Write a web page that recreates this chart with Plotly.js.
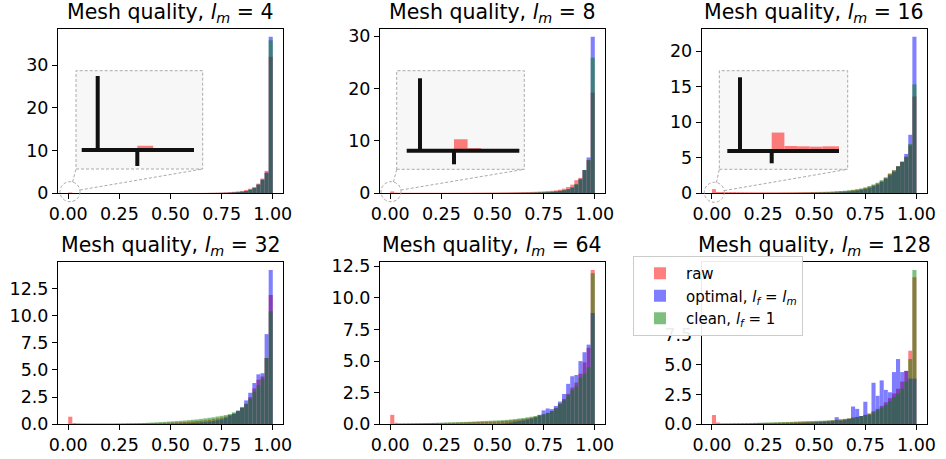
<!DOCTYPE html>
<html><head><meta charset="utf-8">
<script src="https://cdn.plot.ly/plotly-3.0.1.min.js"></script>
<style>html,body{margin:0;padding:0;background:#fff}#chart{width:946px;height:459px}</style>
</head><body><div id="chart"></div>
<script>
// ---------------- data ----------------
const lmValues = [4, 8, 16, 32, 64, 128];
const seriesNames = ['raw', 'optimal, <i>l</i><sub><i>f</i></sub> = <i>l</i><sub><i>m</i></sub>', 'clean, <i>l</i><sub><i>f</i></sub> = 1'];
const seriesColors = ['#ff0000', '#0000ff', '#008000'];
const binCount = 50;
const binWidth = 0.02;
const xTickVals = [0, 0.25, 0.5, 0.75, 1];
const xTickText = ['0.00', '0.25', '0.50', '0.75', '1.00'];

const raw4 = [0.12,0,0,0,0,0,0,0,0,0,
  0,0,0,0,0,0,0,0,0,0,
  0,0,0,0,0,0,0,0,0.01,0.01,
  0.01,0.02,0.02,0.03,0.04,0.05,0.07,0.1,0.14,0.2,
  0.28,0.38,0.5,0.7,1.0,1.4,2.2,3.4,5.2,32.0];
const optimal4 = [0,0,0,0,0,0,0,0,0,0,
  0,0,0,0,0,0,0,0,0,0,
  0,0,0,0,0,0,0,0,0,0,
  0,0,0,0,0.01,0.01,0.02,0.03,0.05,0.08,
  0.12,0.18,0.28,0.45,0.75,1.15,1.95,3.1,4.8,36.7];
const clean4 = [0,0,0,0,0,0,0,0,0,0,
  0,0,0,0,0,0,0,0,0,0,
  0,0,0,0,0,0,0,0,0,0,
  0,0,0,0,0.01,0.02,0.02,0.03,0.05,0.08,
  0.12,0.19,0.3,0.47,0.78,1.2,2.0,3.15,4.7,35.9];

const raw8 = [0.3,0.065,0.045,0.045,0.045,0.045,0.045,0.045,0.045,0.045,
  0.045,0.045,0.045,0.05,0.05,0.05,0.055,0.055,0.06,0.06,
  0.065,0.07,0.075,0.08,0.085,0.09,0.1,0.11,0.12,0.13,
  0.14,0.15,0.17,0.19,0.21,0.24,0.27,0.31,0.36,0.42,
  0.5,0.64,0.84,1.15,1.6,2.45,2.9,4.4,6.3,19.2];
const optimal8 = [0,0,0,0,0,0,0,0,0,0,
  0,0,0,0,0,0,0,0,0,0,
  0,0,0,0,0,0,0,0,0,0,
  0.01,0.015,0.02,0.025,0.035,0.05,0.07,0.1,0.14,0.19,
  0.26,0.36,0.5,0.7,1.0,1.6,2.6,4.4,6.8,29.9];
const clean8 = [0,0,0,0,0,0,0,0,0,0,
  0,0,0,0,0,0,0,0,0,0,
  0.01,0.012,0.014,0.016,0.018,0.02,0.025,0.03,0.035,0.04,
  0.05,0.06,0.07,0.08,0.1,0.12,0.15,0.18,0.22,0.27,
  0.33,0.42,0.55,0.75,1.1,1.7,2.7,4.4,6.3,25.9];

const raw16 = [0.55,0.15,0.14,0.13,0.14,0.14,0.13,0.12,0.12,0.11,
  0.1,0.1,0.1,0.1,0.1,0.1,0.1,0.11,0.11,0.11,
  0.12,0.12,0.13,0.13,0.14,0.15,0.16,0.17,0.18,0.2,
  0.22,0.25,0.28,0.32,0.38,0.46,0.56,0.7,0.88,1.1,
  1.35,1.7,2.15,2.75,3.2,3.8,4.4,5.1,6.7,13.6];
const optimal16 = [0,0,0,0,0,0,0,0,0,0,
  0,0,0,0,0,0,0,0,0,0,
  0,0,0,0,0.01,0.015,0.02,0.03,0.04,0.05,
  0.07,0.1,0.13,0.18,0.24,0.32,0.42,0.55,0.72,0.95,
  1.2,1.55,2.0,2.5,3.0,3.7,4.4,5.5,8.2,22.0];
const clean16 = [0,0,0,0,0,0,0,0,0,0,
  0.01,0.01,0.01,0.01,0.015,0.015,0.02,0.02,0.025,0.03,
  0.04,0.05,0.06,0.07,0.08,0.1,0.11,0.13,0.15,0.17,
  0.23,0.27,0.32,0.38,0.45,0.54,0.65,0.8,0.98,1.2,
  1.45,1.8,2.2,2.7,3.2,3.8,4.4,5.1,6.9,15.3];

const raw32 = [0.7,0.12,0.1,0.09,0.09,0.09,0.09,0.09,0.09,0.09,
  0.09,0.09,0.09,0.09,0.1,0.1,0.1,0.1,0.1,0.1,
  0.11,0.12,0.13,0.14,0.15,0.17,0.18,0.2,0.22,0.24,
  0.27,0.3,0.33,0.37,0.42,0.48,0.55,0.62,0.72,0.85,
  0.95,1.2,1.5,1.9,2.5,3.3,4.1,4.4,6.1,11.9];
const optimal32 = [0,0,0,0,0,0,0,0,0,0,
  0.01,0.01,0.01,0.01,0.01,0.01,0.01,0.01,0.01,0.01,
  0.02,0.025,0.03,0.035,0.04,0.05,0.06,0.07,0.08,0.1,
  0.12,0.14,0.17,0.2,0.25,0.3,0.38,0.45,0.6,0.82,
  1.0,1.25,1.6,2.2,2.9,3.8,4.6,4.7,8.3,14.2];
const clean32 = [0,0,0,0,0,0,0,0.01,0.02,0.02,
  0.03,0.04,0.05,0.06,0.07,0.08,0.09,0.1,0.12,0.14,
  0.16,0.18,0.2,0.22,0.25,0.27,0.3,0.32,0.35,0.38,
  0.42,0.45,0.5,0.55,0.6,0.65,0.72,0.78,0.85,0.95,
  1.1,1.25,1.5,1.85,2.35,3.0,3.6,4.2,6.1,10.4];

const raw64 = [0.75,0.12,0.09,0.09,0.09,0.09,0.09,0.09,0.09,0.09,
  0.1,0.1,0.1,0.11,0.12,0.12,0.13,0.14,0.15,0.16,
  0.17,0.18,0.19,0.2,0.21,0.22,0.24,0.26,0.28,0.3,
  0.33,0.37,0.41,0.46,0.52,0.6,0.68,0.78,0.9,1.05,
  1.3,1.65,2.0,2.4,2.9,3.3,4.0,4.9,6.05,12.2];
const optimal64 = [0,0,0,0,0,0,0,0,0,0,
  0,0,0,0,0,0,0,0,0,0,
  0.01,0.01,0.01,0.02,0.02,0.03,0.04,0.05,0.08,0.12,
  0.2,0.25,0.3,0.38,0.45,0.55,0.75,1.1,1.25,1.2,
  1.45,1.8,2.4,3.2,3.8,3.9,5.0,5.7,6.3,8.8];
const clean64 = [0.01,0.02,0.03,0.04,0.05,0.06,0.07,0.08,0.09,0.1,
  0.11,0.12,0.13,0.14,0.15,0.16,0.17,0.18,0.19,0.2,
  0.22,0.24,0.26,0.27,0.28,0.3,0.31,0.33,0.35,0.38,
  0.42,0.46,0.5,0.55,0.6,0.66,0.72,0.8,0.9,1.05,
  1.25,1.6,1.9,2.3,2.7,3.0,3.7,4.0,4.5,11.95];

const raw128 = [0.78,0.15,0.09,0.09,0.09,0.09,0.09,0.09,0.09,0.09,
  0.1,0.11,0.11,0.12,0.12,0.13,0.14,0.15,0.16,0.17,
  0.18,0.19,0.2,0.21,0.22,0.24,0.26,0.28,0.3,0.33,
  0.36,0.4,0.44,0.49,0.55,0.62,0.7,0.8,0.92,1.1,
  1.3,1.55,1.85,2.2,2.6,3.0,3.6,4.5,6.2,12.4];
const optimal128 = [0.02,0.02,0.02,0.02,0.02,0.02,0.02,0.02,0.02,0.02,
  0.03,0.04,0.04,0.05,0.05,0.06,0.06,0.07,0.08,0.09,
  0.1,0.11,0.12,0.14,0.15,0.17,0.19,0.21,0.24,0.27,
  0.6,0.3,0.35,0.45,1.5,1.3,0.7,1.9,0.8,3.5,
  2.4,3.7,2.9,2.7,4.4,5.5,4.4,4.5,3.85,3.85];
const clean128 = [0.02,0.03,0.04,0.05,0.06,0.07,0.08,0.09,0.1,0.11,
  0.12,0.13,0.14,0.15,0.16,0.17,0.18,0.19,0.2,0.21,
  0.23,0.25,0.26,0.27,0.28,0.29,0.3,0.31,0.33,0.35,
  0.38,0.42,0.46,0.5,0.56,0.62,0.7,0.78,0.88,1.0,
  1.2,1.4,1.65,1.95,2.3,2.6,3.0,3.6,5.5,13.0];

const panelSeries = [
  [raw4, optimal4, clean4],
  [raw8, optimal8, clean8],
  [raw16, optimal16, clean16],
  [raw32, optimal32, clean32],
  [raw64, optimal64, clean64],
  [raw128, optimal128, clean128]
];
// y tick labels per panel (the last panel's upper ticks sit under the legend)
const yTickVals = [
  [0, 10, 20, 30],
  [0, 10, 20, 30],
  [0, 5, 10, 15, 20],
  [0, 2.5, 5, 7.5, 10, 12.5],
  [0, 2.5, 5, 7.5, 10, 12.5],
  [0, 2.5, 5, 7.5]
];
const yTickFormat = ['d', 'd', 'd', '.1f', '.1f', '.1f'];

// ---------------- geometry (pixels) ----------------
const W = 946, H = 459;
const px = x => x / W;
const py = y => 1 - y / H;
const colLeft = [58, 380, 701.7];
const axW = 225;
const rowTop = [29, 262.3];
const rowBottom = [193, 424.3];

// insets on the top row
const insetBox = [[76, 70.7, 202.7, 169], [396.7, 70.7, 524.3, 169.3], [719.3, 70.7, 847.7, 169.3]];
const insetInner = [[81.7, 76, 194, 150], [406.7, 78.3, 519.3, 150.7], [727.3, 77.3, 839, 151]];
const insetSpineX = [97.7, 420, 740];
const insetTickX = [137.3, 454, 771.7];
const insetTickBottom = [166, 164.3, 163.3];
const insetYMax = [2.07, 1.9, 2.2];
const circleCenter = [[70, 191.7], [391, 191.7], [714.3, 192.3]];
const circleR = 10;

const binCenters = [];
for (let i = 0; i < binCount; i++) binCenters.push((i + 0.5) * binWidth);

const font = 'DejaVu Sans';
const tickSize = 17.5;
const traces = [];
const layout = {
  width: W, height: H,
  margin: {l: 0, r: 0, t: 0, b: 0},
  paper_bgcolor: '#ffffff',
  plot_bgcolor: 'rgba(0,0,0,0)',
  barmode: 'overlay',
  font: {family: font, size: tickSize, color: '#000'},
  showlegend: true,
  legend: {
    x: px(633), y: py(256), xanchor: 'left', yanchor: 'top',
    bgcolor: 'rgba(255,255,255,0.92)', bordercolor: '#cccccc', borderwidth: 1,
    font: {family: font, size: 15, color: '#000'},
    itemwidth: 42, tracegroupgap: 0,
    traceorder: 'normal'
  },
  annotations: [],
  shapes: [],
  hovermode: false
};

for (let p = 0; p < 6; p++) {
  const r = Math.floor(p / 3), c = p % 3;
  const n = p + 1;
  const xn = 'x' + (n === 1 ? '' : n), yn = 'y' + (n === 1 ? '' : n);
  const ser = panelSeries[p];
  let ymax = 0;
  ser.forEach(s => s.forEach(v => { if (v > ymax) ymax = v; }));
  layout['xaxis' + (n === 1 ? '' : n)] = {
    domain: [px(colLeft[c]), px(colLeft[c] + axW)],
    anchor: yn, range: [-0.05, 1.05],
    tickvals: xTickVals, ticktext: xTickText,
    ticks: 'outside', ticklen: 5, tickwidth: 1, tickcolor: '#000',
    showline: true, mirror: true, linecolor: '#000', linewidth: 1,
    showgrid: false, zeroline: false,
    tickfont: {family: font, size: tickSize, color: '#000'}
  };
  layout['yaxis' + (n === 1 ? '' : n)] = {
    domain: [py(rowBottom[r]), py(rowTop[r])],
    anchor: xn, range: [0, ymax * 1.05],
    tickvals: yTickVals[p], tickformat: yTickFormat[p],
    ticks: 'outside', ticklen: 5, tickwidth: 1, tickcolor: '#000',
    showline: true, mirror: true, linecolor: '#000', linewidth: 1,
    showgrid: false, zeroline: false,
    tickfont: {family: font, size: tickSize, color: '#000'}
  };
  ser.forEach((vals, k) => {
    traces.push({
      type: 'bar', x: binCenters, y: vals, width: binWidth,
      xaxis: xn, yaxis: yn,
      name: seriesNames[k], legendgroup: 's' + k, showlegend: p === 0,
      marker: {color: seriesColors[k], line: {width: 0}},
      opacity: 0.5
    });
  });
  layout.annotations.push({
    xref: 'paper', yref: 'paper', x: px(colLeft[c] + axW / 2), y: py(rowTop[r]),
    xanchor: 'center', yanchor: 'bottom', yshift: 1, showarrow: false,
    text: 'Mesh quality, <i>l</i><sub><i>m</i></sub> = ' + lmValues[p],
    font: {family: font, size: 20.5, color: '#000'}
  });
}

// insets (zoom around the origin of the top-row panels)
for (let c = 0; c < 3; c++) {
  const n = 7 + c;
  const inner = insetInner[c];
  const scale = (insetTickX[c] - insetSpineX[c]) / 0.05;
  layout['xaxis' + n] = {
    domain: [px(inner[0]), px(inner[2])], anchor: 'y' + n,
    range: [(inner[0] - insetTickX[c]) / scale, (inner[2] - insetTickX[c]) / scale],
    visible: false, showgrid: false, zeroline: false
  };
  layout['yaxis' + n] = {
    domain: [py(inner[3]), py(inner[1])], anchor: 'x' + n,
    range: [0, insetYMax[c]], visible: false, showgrid: false, zeroline: false
  };
  traces.push({
    type: 'bar', x: binCenters, y: panelSeries[c][0], width: binWidth,
    xaxis: 'x' + n, yaxis: 'y' + n, showlegend: false,
    marker: {color: seriesColors[0], line: {width: 0}}, opacity: 0.5
  });
  const b = insetBox[c];
  layout.shapes.push({type: 'rect', xref: 'paper', yref: 'paper', layer: 'below',
    x0: px(b[0]), x1: px(b[2]), y0: py(b[3]), y1: py(b[1]),
    fillcolor: '#f7f7f7', line: {color: '#aaaaaa', width: 1, dash: '3px,2px'}});
  // magnified spines and tick
  layout.shapes.push({type: 'line', xref: 'paper', yref: 'paper',
    x0: px(inner[0]), x1: px(inner[2]), y0: py(inner[3]), y1: py(inner[3]),
    line: {color: '#111', width: 4}});
  layout.shapes.push({type: 'line', xref: 'paper', yref: 'paper',
    x0: px(insetSpineX[c]), x1: px(insetSpineX[c]), y0: py(inner[3]), y1: py(inner[1]),
    line: {color: '#111', width: 4}});
  layout.shapes.push({type: 'line', xref: 'paper', yref: 'paper',
    x0: px(insetTickX[c]), x1: px(insetTickX[c]), y0: py(inner[3]), y1: py(insetTickBottom[c]),
    line: {color: '#111', width: 4}});
  // circle marking the zoomed region and connectors
  const cc = circleCenter[c];
  layout.shapes.push({type: 'circle', xref: 'paper', yref: 'paper',
    x0: px(cc[0] - circleR), x1: px(cc[0] + circleR), y0: py(cc[1] + circleR), y1: py(cc[1] - circleR),
    line: {color: '#aaaaaa', width: 1, dash: '3px,2px'}});
  [[b[0], b[3]], [b[2], b[3]]].forEach(corner => {
    const dx = corner[0] - cc[0], dy = corner[1] - cc[1];
    const d = Math.sqrt(dx * dx + dy * dy);
    const sx = cc[0] + circleR * dx / d, sy = cc[1] + circleR * dy / d;
    layout.shapes.push({type: 'line', xref: 'paper', yref: 'paper',
      x0: px(sx), y0: py(sy), x1: px(corner[0]), y1: py(corner[1]),
      line: {color: '#aaaaaa', width: 1, dash: '3px,2px'}});
  });
}

Plotly.newPlot('chart', traces, layout, {staticPlot: true, displayModeBar: false});
</script>
</body></html>
